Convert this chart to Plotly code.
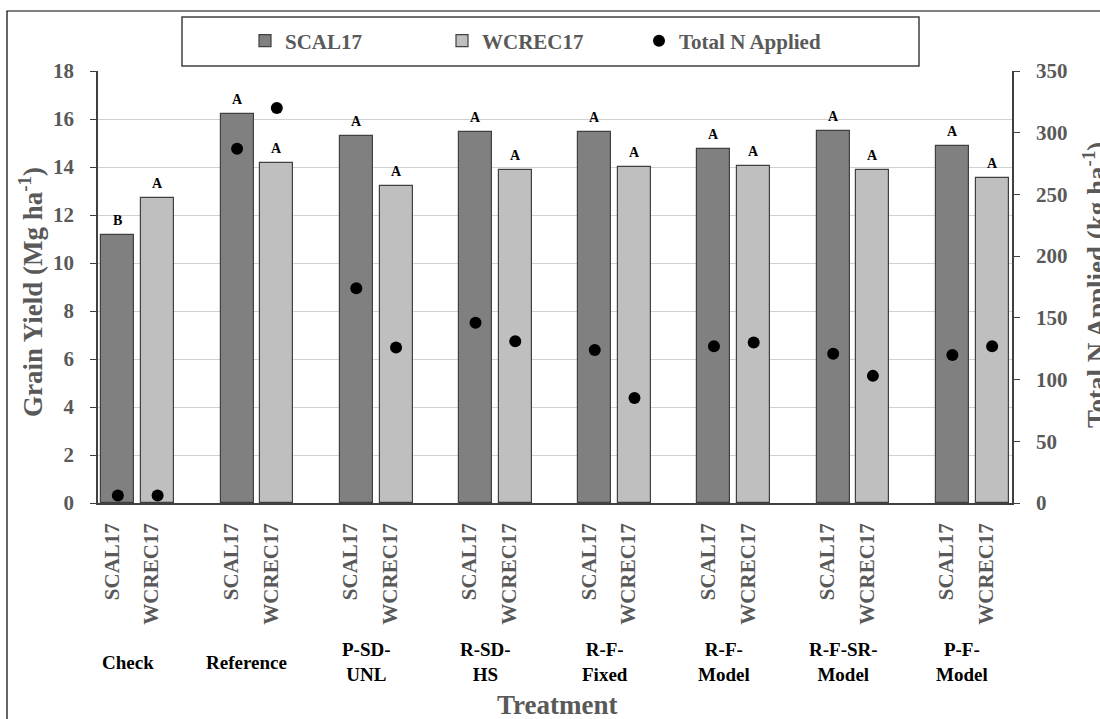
import plotly.graph_objects as go

# ---------------- data ----------------
treatments = ["Check", "Reference", "P-SD-UNL", "R-SD-HS", "R-F-Fixed",
              "R-F-Model", "R-F-SR-Model", "P-F-Model"]
group_labels = ["Check", "Reference", "P-SD-<br>UNL", "R-SD-<br>HS", "R-F-<br>Fixed",
                "R-F-<br>Model", "R-F-SR-<br>Model", "P-F-<br>Model"]
crops = ["SCAL17", "WCREC17"]
scal17_yield = [11.17, 16.19, 15.29, 15.44, 15.46, 14.74, 15.51, 14.89]
wcrec17_yield = [12.72, 14.15, 13.22, 13.89, 14.00, 14.06, 13.88, 13.56]
scal17_n = [6, 287, 174, 146, 124, 127, 121, 120]
wcrec17_n = [6, 320, 126, 131, 85, 130, 103, 127]
scal17_letters = ["B", "A", "A", "A", "A", "A", "A", "A"]
wcrec17_letters = ["A", "A", "A", "A", "A", "A", "A", "A"]

# ---------------- layout constants ----------------
W, H = 1100, 719
ML, MR, MT, MB = 98, 88, 71, 216
PW, PH = W - ML - MR, H - MT - MB
FONT = "Liberation Serif"
GRAY_TXT = "#595959"
AXIS = "#404040"

def px(xp):
    return (xp - ML) / PW

def py(yp):
    return (H - MB - yp) / PH

slots_per_group = 3
n_groups = len(treatments)
x_scal = [g * slots_per_group for g in range(n_groups)]
x_wcrec = [g * slots_per_group + 1 for g in range(n_groups)]

fig = go.Figure()

fig.add_trace(go.Bar(
    x=x_scal, y=scal17_yield, name="SCAL17", width=0.83,
    marker=dict(color="#808080", line=dict(color=AXIS, width=1.2)),
))
fig.add_trace(go.Bar(
    x=x_wcrec, y=wcrec17_yield, name="WCREC17", width=0.83,
    marker=dict(color="#bfbfbf", line=dict(color=AXIS, width=1.2)),
))
fig.add_trace(go.Scatter(
    x=x_scal + x_wcrec, y=scal17_n + wcrec17_n, name="Total N Applied",
    mode="markers", yaxis="y2",
    marker=dict(color="black", size=12, symbol="circle"),
))

# significance letters
for xs, ys, ls in ((x_scal, scal17_yield, scal17_letters), (x_wcrec, wcrec17_yield, wcrec17_letters)):
    for xv, yv, lt in zip(xs, ys, ls):
        fig.add_annotation(x=xv, y=yv, text="<b>" + lt + "</b>", showarrow=False, xref="x", yref="y",
                           yanchor="bottom", yshift=5,
                           font=dict(family=FONT, size=14, color="black"))

# group (treatment) labels
for g, lab in enumerate(group_labels):
    fig.add_annotation(x=g * slots_per_group + 0.5, y=py(662), xref="x", yref="paper",
                       text="<b>" + lab + "</b>", showarrow=False, xshift=-10, yanchor="middle",
                       font=dict(family=FONT, size=19, color="black"))

# axis titles
fig.add_annotation(x=px(557), y=py(705), xref="paper", yref="paper", text="<b>Treatment</b>",
                   showarrow=False, yanchor="middle",
                   font=dict(family=FONT, size=27, color=GRAY_TXT))
fig.add_annotation(x=px(31), y=py(292), xref="paper", yref="paper",
                   text="<b>Grain Yield (Mg ha<sup>-1</sup>)</b>", textangle=-90,
                   showarrow=False, xanchor="center", yanchor="middle",
                   font=dict(family=FONT, size=27, color=GRAY_TXT))
fig.add_annotation(x=px(1095), y=py(285), xref="paper", yref="paper",
                   text="<b>Total N Applied (kg ha<sup>-1</sup>)</b>", textangle=-90,
                   showarrow=False, xanchor="center", yanchor="middle",
                   font=dict(family=FONT, size=27, color=GRAY_TXT))

# legend frame and outer chart frame
fig.add_shape(type="rect", xref="paper", yref="paper",
              x0=px(182), x1=px(919), y0=py(66), y1=py(17),
              line=dict(color=AXIS, width=1.5), fillcolor="rgba(0,0,0,0)", layer="above")
fig.add_shape(type="rect", xref="paper", yref="paper",
              x0=px(7), x1=px(1110), y0=py(730), y1=py(11),
              line=dict(color="black", width=1.2), fillcolor="rgba(0,0,0,0)")

tick_text = ["<b>" + c + "</b>" for _ in treatments for c in crops]
tick_vals = [v for pair in zip(x_scal, x_wcrec) for v in pair]

fig.update_layout(
    width=W, height=H,
    margin=dict(l=ML, r=MR, t=MT, b=MB, autoexpand=False),
    paper_bgcolor="white", plot_bgcolor="white",
    barmode="overlay", bargap=0,
    showlegend=True,
    legend=dict(orientation="h", x=px(245), y=py(41), xanchor="left", yanchor="middle",
                bgcolor="rgba(0,0,0,0)", borderwidth=0, entrywidth=152,
                font=dict(family=FONT, size=21, color=GRAY_TXT, weight="bold"),
                traceorder="normal"),
    xaxis=dict(range=[-0.5, n_groups * slots_per_group - 1.5],
               tickmode="array", tickvals=tick_vals, ticktext=tick_text,
               tickangle=-90, ticks="", showgrid=False, zeroline=False,
               showline=True, linecolor=AXIS, linewidth=1.5,
               ticklabelstandoff=10, ticklabelshift=-6,
               tickfont=dict(family=FONT, size=21, color=GRAY_TXT, weight="bold")),
    yaxis=dict(range=[0, 18], dtick=2, showgrid=True, gridcolor="#d0d0d0", gridwidth=1,
               zeroline=False, showline=True, linecolor=AXIS, linewidth=1.5,
               ticks="outside", ticklen=6, tickcolor=AXIS, ticklabelstandoff=12,
               tickfont=dict(family=FONT, size=21, color=GRAY_TXT, weight="bold")),
    yaxis2=dict(range=[0, 350], dtick=50, overlaying="y", side="right", showgrid=False,
                zeroline=False, showline=True, linecolor=AXIS, linewidth=1.5,
                ticks="outside", ticklen=6, tickcolor=AXIS, ticklabelstandoff=12,
                tickfont=dict(family=FONT, size=21, color=GRAY_TXT, weight="bold")),
)

fig.write_html("out.html")
